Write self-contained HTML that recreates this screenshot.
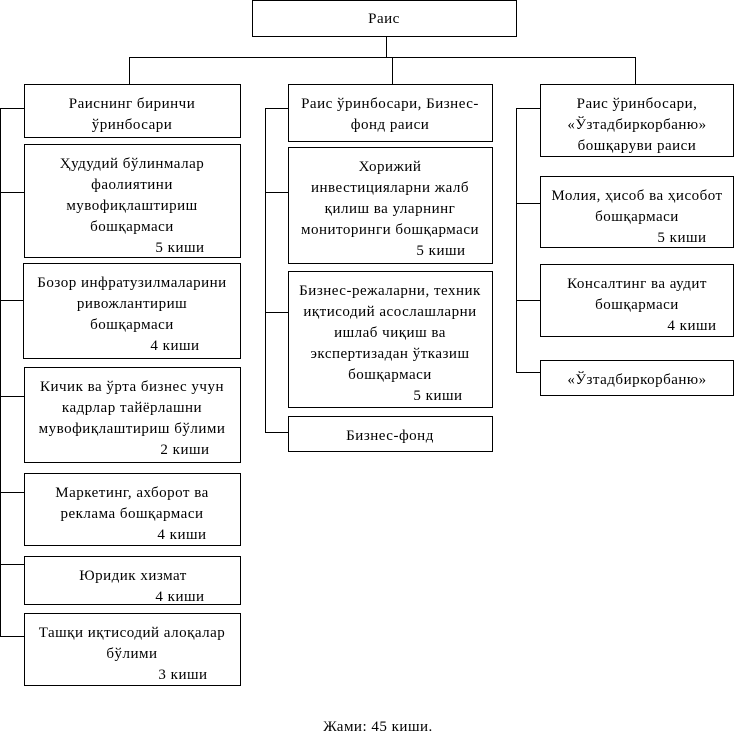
<!DOCTYPE html>
<html><head><meta charset="utf-8"><style>
html,body{margin:0;padding:0;background:#fff;}
svg{display:block;}
text{font-family:"Liberation Serif",serif;font-size:15px;letter-spacing:0.5px;fill:#000;}
</style></head><body>
<svg width="734" height="745" viewBox="0 0 734 745" xmlns="http://www.w3.org/2000/svg">
<g fill="none" stroke="#000" stroke-width="1" shape-rendering="crispEdges">
<rect x="252.5" y="0.5" width="264" height="36"/>
<path d="M386.5 36V57.5M129.5 57.5H635.5M129.5 57V84M392.5 57V84M635.5 57V84"/>
<rect x="24.5" y="84.5" width="216" height="53"/>
<rect x="24.5" y="144.5" width="216" height="113"/>
<rect x="23.5" y="263.5" width="217" height="95"/>
<rect x="24.5" y="367.5" width="216" height="95"/>
<rect x="24.5" y="473.5" width="216" height="72"/>
<rect x="24.5" y="556.5" width="216" height="48"/>
<rect x="24.5" y="613.5" width="216" height="72"/>
<path d="M0.5 108V636M0 108.5H24M0 192.5H24M0 300.5H24M0 396.5H24M0 492.5H24M0 564.5H24M0 636.5H24"/>
<rect x="288.5" y="84.5" width="204" height="57"/>
<rect x="288.5" y="147.5" width="204" height="116"/>
<rect x="288.5" y="271.5" width="204" height="136"/>
<rect x="288.5" y="416.5" width="204" height="35"/>
<path d="M265.5 108V432M265 108.5H288M265 192.5H288M265 312.5H288M265 432.5H288"/>
<rect x="540.5" y="84.5" width="193" height="72"/>
<rect x="540.5" y="176.5" width="193" height="71"/>
<rect x="540.5" y="264.5" width="193" height="72"/>
<rect x="540.5" y="360.5" width="193" height="35"/>
<path d="M516.5 108V372M516 108.5H540M516 203.5H540M516 300.5H540M516 372.5H540"/>
</g>
<g text-anchor="middle">
<text x="384" y="23">Раис</text>

<text x="132" y="108">Раиснинг биринчи</text>
<text x="132" y="129">ўринбосари</text>

<text x="132" y="168">Ҳудудий бўлинмалар</text>
<text x="132" y="189">фаолиятини</text>
<text x="132" y="210">мувофиқлаштириш</text>
<text x="132" y="231">бошқармаси</text>
<text x="180" y="252">5 киши</text>

<text x="132" y="287">Бозор инфратузилмаларини</text>
<text x="132" y="308">ривожлантириш</text>
<text x="132" y="329">бошқармаси</text>
<text x="175" y="350">4 киши</text>

<text x="132" y="391">Кичик ва ўрта бизнес учун</text>
<text x="132" y="412">кадрлар тайёрлашни</text>
<text x="132" y="433">мувофиқлаштириш бўлими</text>
<text x="185" y="454">2 киши</text>

<text x="132" y="497">Маркетинг, ахборот ва</text>
<text x="132" y="518">реклама бошқармаси</text>
<text x="182" y="539">4 киши</text>

<text x="133" y="580">Юридик хизмат</text>
<text x="180" y="601">4 киши</text>

<text x="132" y="637">Ташқи иқтисодий алоқалар</text>
<text x="132" y="658">бўлими</text>
<text x="183" y="679">3 киши</text>

<text x="390" y="108">Раис ўринбосари, Бизнес-</text>
<text x="390" y="129">фонд раиси</text>

<text x="390" y="171">Хорижий</text>
<text x="390" y="192">инвестицияларни жалб</text>
<text x="390" y="213">қилиш ва уларнинг</text>
<text x="390" y="234">мониторинги бошқармаси</text>
<text x="441" y="255">5 киши</text>

<text x="390" y="295">Бизнес-режаларни, техник</text>
<text x="390" y="316">иқтисодий асослашларни</text>
<text x="390" y="337">ишлаб чиқиш ва</text>
<text x="390" y="358">экспертизадан ўтказиш</text>
<text x="390" y="379">бошқармаси</text>
<text x="438" y="400">5 киши</text>

<text x="390" y="440">Бизнес-фонд</text>

<text x="637" y="108">Раис ўринбосари,</text>
<text x="637" y="129">«Ўзтадбиркорбаню»</text>
<text x="637" y="150">бошқаруви  раиси</text>

<text x="637" y="200">Молия, ҳисоб ва ҳисобот</text>
<text x="637" y="221">бошқармаси</text>
<text x="682" y="242">5 киши</text>

<text x="637" y="288">Консалтинг ва аудит</text>
<text x="637" y="309">бошқармаси</text>
<text x="692" y="330">4 киши</text>

<text x="637" y="384">«Ўзтадбиркорбаню»</text>

<text x="378" y="731">Жами: 45 киши.</text>
</g>
</svg>
</body></html>
